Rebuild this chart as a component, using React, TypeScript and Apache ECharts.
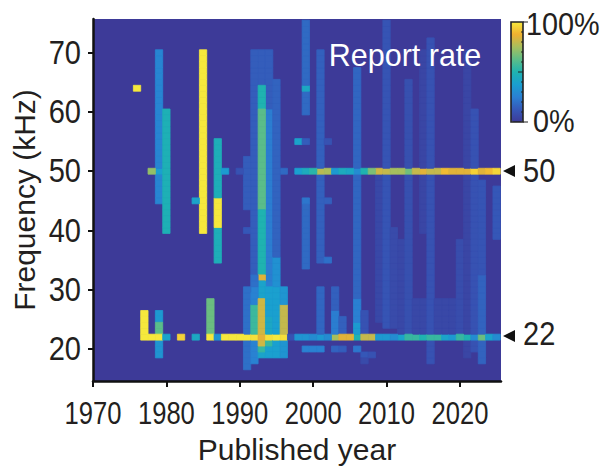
import React, { useEffect, useRef } from "react";
import * as echarts from "echarts";

const FONT = "Liberation Sans";
const xTicks = [1970, 1980, 1990, 2000, 2010, 2020];
const yTicks = [20, 30, 40, 50, 60, 70];
const barTicks = [0.1, 0.2, 0.3, 0.4, 0.5, 0.6, 0.7, 0.8, 0.9];
const parula = ["#3d3a98", "#3558b8", "#2a80d2", "#1a9fd0", "#1fb3b0", "#5cbd88", "#a6bf5e", "#f0b030", "#f6e83c"];

// [year, low kHz, high kHz, report rate 0..1]; later entries paint over earlier ones
const earlyColumns = [
  [1976, 64, 64, 1], [1979, 45, 70, 0.27], [1980, 40, 60, 0.48], [1978, 50, 50, 0.72], [1979, 50, 50, 0.38],
  [1985, 40, 70, 1], [1984, 45, 45, 0.4], [1987, 35, 55, 0.47], [1987, 41, 45, 1], [1988, 50, 50, 0.36],
  [1991, 44, 52, 0.14], [1990, 50, 50, 0.1], [1991, 40, 40, 0.12], [1996, 50, 50, 0.18], [1998, 55, 55, 0.42],
];
const clusterColumns = [
  [1992, 33, 70, 0.14], [1993, 65, 70, 0.14], [1994, 31, 70, 0.14], [1995, 30, 65, 0.16], [1994, 31, 60, 0.24],
  [1995, 30, 35, 0.32], [1993, 61, 64, 0.5], [1993, 44, 60, 0.62], [1993, 33, 43, 0.5], [1993, 32, 32, 0.85],
  [1993, 29, 31, 0.4], [1992, 30, 32, 0.2], [1991, 17, 30, 0.2], [1992, 18, 30, 0.26], [1993, 19, 28, 0.4],
  [1994, 19, 30, 0.38], [1995, 19, 30, 0.38], [1996, 19, 30, 0.33], [1992, 23, 27, 0.56], [1994, 23, 25, 0.42],
  [1993, 21, 28, 0.82], [1996, 23, 27, 0.8], [1993, 20, 20, 0.55], [1994, 21, 21, 0.55],
];
const line22Early = [
  [1977, 22, 26, 1], [1978, 22, 22, 1], [1979, 25, 26, 0.35], [1979, 23, 24, 0.62], [1979, 19, 21, 0.33], [1979, 22, 22, 1],
  [1980, 22, 22, 0.4], [1982, 22, 22, 0.95], [1984, 22, 22, 0.43], [1986, 23, 28, 0.65], [1986, 22, 22, 1], [1987, 22, 22, 0.33],
  [1988, 22, 22, 1], [1989, 22, 22, 1], [1990, 22, 22, 1], [1991, 22, 22, 1], [1992, 22, 22, 0.98], [1994, 22, 22, 0.98],
  [1995, 22, 22, 1], [1996, 22, 22, 0.98], [1993, 22, 22, 0.86],
];
const faintColumns = [
  [1999, 60, 75, 0.18], [1999, 34, 45, 0.18], [1999, 64, 64, 0.43], [1998, 55, 55, 0.4], [1999, 55, 55, 0.14],
  [2001, 35, 70, 0.15], [2002, 35, 35, 0.2], [2002, 45, 45, 0.15], [2002, 55, 55, 0.1], [1999, 45, 45, 0.22],
  [2001, 22, 30, 0.17], [2003, 22, 30, 0.15], [2003, 23, 26, 0.24], [2004, 23, 25, 0.15],
  [2006, 22, 67, 0.17], [2006, 25, 28, 0.25], [2006, 22, 24, 0.36], [2007, 23, 26, 0.1],
  [2009, 25, 50, 0.06], [2010, 24, 75, 0.11], [2011, 24, 40, 0.07], [2012, 22, 38, 0.06], [2013, 23, 65, 0.09],
  [2014, 22, 28, 0.06], [2015, 22, 28, 0.06], [2015, 40, 70, 0.05], [2016, 18, 72, 0.1], [2017, 22, 28, 0.06], [2018, 22, 28, 0.06],
  [2019, 22, 28, 0.06], [2020, 23, 38, 0.08], [2021, 19, 70, 0.05], [2022, 20, 60, 0.1], [2023, 18, 48, 0.11], [2023, 18, 32, 0.16],
  [2025, 39, 47, 0.12], [1999, 20, 20, 0.26], [2000, 20, 20, 0.26], [2001, 20, 20, 0.26], [2003, 20, 20, 0.16], [2004, 20, 20, 0.14],
  [2006, 20, 20, 0.22], [2007, 19, 19, 0.12], [2007, 18, 18, 0.07], [2008, 19, 19, 0.1],
];
const line50Start = 1998;
const line50Rates = [0.38, 0.45, 0.52, 0.78, 0.76, 0.35, 0.45, 0.42, 0.3, 0.5, 0.68, 0.82, 0.8, 0.75, 0.75, 0.66, 0.8, 0.85, 0.8, 0.8, 0.9, 0.85, 0.85, 0.85, 0.95, 0.85, 0.9, 0.96];
const line22Start = 1997;
const line22Rates = [0.1, 0.33, 0.33, 0.3, 0.35, 0.3, 0.75, 0.85, 0.85, 0.5, 0.8, 0.8, 0.35, 0.35, 0.3, 0.4, 0.55, 0.55, 0.5, 0.55, 0.55, 0.4, 0.35, 0.55, 0.5, 0.3, 0.65, 0.4, 0.3];

function buildCells() {
  const m = new Map<string, number[]>();
  const put = (y: number, f: number, v: number) => m.set(y + "_" + f, [y, f, v]);
  [...earlyColumns, ...clusterColumns, ...faintColumns].forEach(([y, a, b, v]) => {
    for (let f = a; f <= b; f++) put(y, f, v);
  });
  line50Rates.forEach((v, i) => put(line50Start + i, 50, v));
  line22Rates.forEach((v, i) => put(line22Start + i, 22, v));
  line22Early.forEach(([y, a, b, v]) => {
    for (let f = a; f <= b; f++) put(y, f, v);
  });
  return [...m.values()];
}

export default function App() {
  const ref = useRef<HTMLDivElement>(null);
  useEffect(() => {
    const chart = echarts.init(ref.current!, undefined, { renderer: "svg" });
    const label = (text: string, x: number, y: number, fontSize = 33, fill = "#231f20", align = "left", scaleX = 0.88) => ({
      type: "text", x, y, z: 100, scaleX,
      style: { text, fill, fontFamily: FONT, fontSize, textAlign: align, textVerticalAlign: "middle" },
    });
    const tri = (y: number) => ({
      type: "polygon", z: 100,
      shape: { points: [[503, y], [515, y - 6], [515, y + 6]] },
      style: { fill: "#111" },
    });
    chart.setOption({
      animation: false,
      backgroundColor: "#fff",
      textStyle: { fontFamily: FONT },
      grid: { left: 93, top: 19, width: 408, height: 362, show: true, backgroundColor: parula[0], borderWidth: 0, outerBoundsMode: "none" },
      xAxis: {
        type: "value", min: 1970, max: 2025.6, name: "Published year", nameLocation: "middle", nameGap: 68,
        nameTextStyle: { fontSize: 30, color: "#231f20", fontFamily: FONT, verticalAlign: "middle" },
        splitLine: { show: false },
        axisLine: { show: true, onZero: false, lineStyle: { color: "#111", width: 2.5 } },
        axisTick: { show: true, length: 6, lineStyle: { color: "#111", width: 2 }, customValues: xTicks },
        axisLabel: { show: false },
      },
      yAxis: {
        type: "value", min: 14.6, max: 75.69, name: "Frequency (kHz)", nameLocation: "middle", nameGap: 69,
        nameTextStyle: { fontSize: 30, color: "#231f20", fontFamily: FONT, verticalAlign: "middle" },
        splitLine: { show: false },
        axisLine: { show: true, onZero: false, lineStyle: { color: "#111", width: 2.5 } },
        axisTick: { show: true, length: 5, lineStyle: { color: "#111", width: 2 }, customValues: yTicks },
        axisLabel: { show: false },
      },
      visualMap: {
        type: "continuous", min: 0, max: 1, dimension: 2, seriesIndex: 0, calculable: false, hoverLink: false,
        orient: "vertical", left: 511, top: 22, itemWidth: 12, itemHeight: 100, text: ["", ""], padding: 0,
        inRange: { color: parula },
      },
      series: [{
        type: "custom", clip: true, silent: true,
        encode: { x: 0, y: 1 },
        data: buildCells(),
        renderItem: (_p: any, api: any) => {
          const y = api.value(0), f = api.value(1);
          const a = api.coord([y - 0.5, f + 0.5]);
          const b = api.coord([y + 0.5, f - 0.5]);
          return {
            type: "rect",
            shape: { x: a[0], y: a[1], width: b[0] - a[0], height: b[1] - a[1] },
            style: { fill: api.visual("color"), stroke: api.visual("color"), lineWidth: 0.8 },
          };
        },
      }],
    });
    chart.setOption({
      graphic: [
        ...xTicks.map((t) => label(String(t), chart.convertToPixel({ xAxisIndex: 0 }, t), 413, 32, "#231f20", "center", 0.8)),
        ...yTicks.map((t) => label(String(t), 81, chart.convertToPixel({ yAxisIndex: 0 }, t), 33, "#231f20", "right", 0.88)),
        label("Report rate", 405, 55, 30.5, "#ffffff", "center", 1),
        { type: "rect", z: 100, shape: { x: 511, y: 22, width: 12, height: 100 }, style: { fill: "none", stroke: "#222", lineWidth: 1.6 } },
        ...barTicks.map((t) => ({
          type: "line", z: 100,
          shape: { x1: t === 0.5 ? 518 : 521, y1: 122 - t * 100, x2: 523, y2: 122 - t * 100 },
          style: { stroke: "#222", lineWidth: 1 },
        })),
        { type: "line", z: 100, shape: { x1: 523, y1: 22, x2: 528, y2: 22 }, style: { stroke: "#222", lineWidth: 1 } },
        { type: "line", z: 100, shape: { x1: 523, y1: 122, x2: 528, y2: 122 }, style: { stroke: "#222", lineWidth: 1 } },
        label("100%", 526, 24, 31, "#231f20", "left", 0.93),
        label("0%", 533, 121, 31, "#231f20", "left", 0.93),
        tri(171), tri(336),
        label("50", 523, 171),
        label("22", 523, 334),
      ],
    });
    return () => chart.dispose();
  }, []);
  return <div ref={ref} style={{ position: "absolute", left: 0, top: 0, width: 601, height: 467 }} />;
}
